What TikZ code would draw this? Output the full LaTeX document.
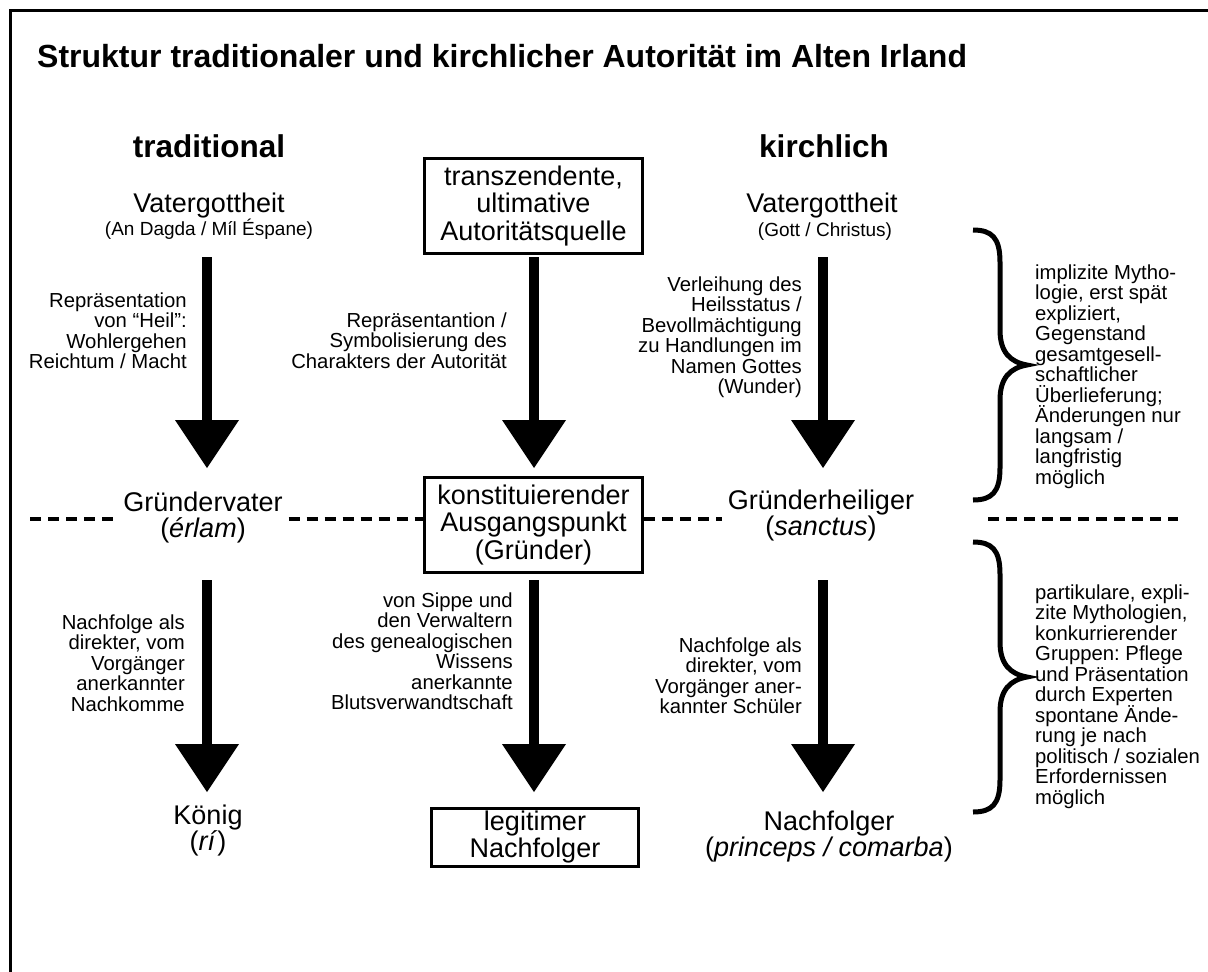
\documentclass[tikz,border=0pt]{standalone}
\usepackage{fontspec}
\setmainfont{Liberation Sans}
\usetikzlibrary{arrows.meta}

% font size in pt together with its line distance; lines keep an even pitch
\newcommand{\pxfont}[2]{\fontsize{#1}{#2}\selectfont\lineskiplimit=-100pt\frenchspacing}

\begin{document}
\begin{tikzpicture}[x=1pt,y=-1pt,
  every node/.style={inner sep=0pt},
  heading/.style={font=\pxfont{31.5}{34}\bfseries, anchor=base},
  maintext/.style={font=\pxfont{27}{26}, align=center, anchor=base},
  subtext/.style={font=\pxfont{19}{21}, anchor=base},
  note/.style={font=\pxfont{20.3}{20.5}, align=right, anchor=base east},
  sidenote/.style={font=\pxfont{20.3}{20.5}, align=left, anchor=base west},
  framed/.style={draw, line width=3pt, font=\pxfont{27}{27.5}, align=center},
  bigarrow/.style={line width=10pt, -{Triangle[length=48pt,width=64pt,line width=0pt]}},
  dashline/.style={line width=4pt, dash pattern=on 11pt off 7pt},
  bracestroke/.style={line width=5pt}]

\useasboundingbox (0,0) rectangle (1208,972);

% open frame: top and left edges
\draw[line width=3pt] (10.5,972) -- (10.5,10.5) -- (1208,10.5);

% title and column headings
\node[font=\pxfont{32}{36}\bfseries, anchor=base west] (title) at (37,67)
  {Struktur traditionaler und kirchlicher Autorität im Alten Irland};
\node[heading] (trad) at (209,157) {traditional};
\node[heading] (kirch) at (824,157) {kirchlich};

% top row
\node[maintext] (vgL) at (209,212) {Vatergottheit};
\node[subtext] (vgLsub) at (209,235) {(An Dagda / Míl Éspane)};
\node[framed, minimum width=218pt, minimum height=95pt] (src) at (533.5,206)
  {transzendente,\\ultimative\\Autoritätsquelle};
\node[maintext] (vgR) at (822,212) {Vatergottheit};
\node[subtext] (vgRsub) at (825,236) {(Gott / Christus)};

% middle row (multi-line nodes sit on the baseline of their last line)
\node[maintext, inner xsep=6pt] (gv) at (203,537) {Gründervater\\(\textit{érlam})};
\node[framed, minimum width=218pt, minimum height=95pt] (start) at (533.5,525)
  {konstituierender\\Ausgangspunkt\\(Gründer)};
\node[maintext, inner xsep=6pt] (gh) at (821,535) {Gründerheiliger\\(\textit{sanctus})};

% bottom row
\node[maintext] (koenig) at (208,850) {König\\(\textit{rí})};
\node[framed, minimum width=207pt, minimum height=58pt] (legit) at (535,837)
  {legitimer\\Nachfolger};
\node[maintext] (nachf) at (829,856) {Nachfolger\\(\textit{princeps / comarba})};

% arrow labels
\node[note] (n1) at (187,368.5) {Repräsentation\\von “Heil”:\\Wohlergehen\\Reichtum / Macht};
\node[note] (n2) at (507,368) {Repräsentantion /\\Symbolisierung des\\Charakters der Autorität};
\node[note] (n3) at (802,393.5) {Verleihung des\\Heilsstatus /\\Bevollmächtigung\\zu Handlungen im\\Namen Gottes\\(Wunder)};
\node[note] (n4) at (185,711) {Nachfolge als\\direkter, vom\\Vorgänger\\anerkannter\\Nachkomme};
\node[note] (n5) at (513,709.5) {von Sippe und\\den Verwaltern\\des genealogischen\\Wissens\\anerkannte\\Blutsverwandtschaft};
\node[note] (n6) at (802,713.5) {Nachfolge als\\direkter, vom\\Vorgänger aner-\\kannter Schüler};

% side comments
\node[sidenote] (s1) at (1035,484) {implizite Mytho-\\logie, erst spät\\expliziert,\\Gegenstand\\gesamtgesell-\\schaftlicher\\Überlieferung;\\Änderungen nur\\langsam /\\langfristig\\möglich};
\node[sidenote] (s2) at (1035,804) {partikulare, expli-\\zite Mythologien,\\konkurrierender\\Gruppen: Pflege\\und Präsentation\\durch Experten\\spontane Ände-\\rung je nach\\politisch / sozialen\\Erfordernissen\\möglich};

% arrow end points
\coordinate (aL1s) at (207,257);  \coordinate (aL1e) at (207,468);
\coordinate (aC1s) at (534,257);  \coordinate (aC1e) at (534,468);
\coordinate (aR1s) at (823,257);  \coordinate (aR1e) at (823,468);
\coordinate (aL2s) at (207,580);  \coordinate (aL2e) at (207,792);
\coordinate (aC2s) at (534,580);  \coordinate (aC2e) at (534,792);
\coordinate (aR2s) at (823,580);  \coordinate (aR2e) at (823,792);

\draw[bigarrow] (aL1s) -- (aL1e);
\draw[bigarrow] (aC1s) -- (aC1e);
\draw[bigarrow] (aR1s) -- (aR1e);
\draw[bigarrow] (aL2s) -- (aL2e);
\draw[bigarrow] (aC2s) -- (aC2e);
\draw[bigarrow] (aR2s) -- (aR2e);

% dashed divider
\coordinate (dl) at (30,519);
\coordinate (drs) at (988,519);
\coordinate (dre) at (1178,519);
\draw[dashline] (dl) -- (dl -| gv.west);
\draw[dashline] (dl -| gv.east) -- (dl -| start.west);
\draw[dashline] (dl -| start.east) -- (dl -| gh.west);
\draw[dashline] (drs) -- (dre);

% braces
\draw[bracestroke] (973,230) .. controls (992,230) and (1000,238) .. (1000,262)
  -- (1000,330) .. controls (1000,352) and (1010,362) .. (1027,365)
  .. controls (1010,368) and (1000,378) .. (1000,400)
  -- (1000,468) .. controls (1000,492) and (992,500) .. (973,500);
\draw[bracestroke] (973,542) .. controls (992,542) and (1000,550) .. (1000,574)
  -- (1000,642) .. controls (1000,664) and (1010,674) .. (1027,677)
  .. controls (1010,680) and (1000,690) .. (1000,712)
  -- (1000,780) .. controls (1000,804) and (992,812) .. (973,812);

\end{tikzpicture}
\end{document}
